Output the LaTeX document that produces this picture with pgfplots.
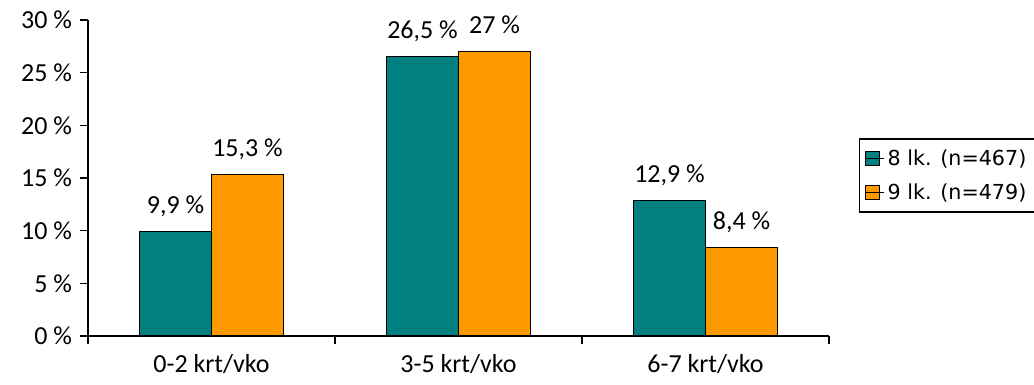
\documentclass[border=0pt]{standalone}
\usepackage{pgfplots}
\pgfplotsset{compat=1.18}
\usepackage{fontspec}
\setmainfont{Carlito}
\newfontfamily\legfont{DejaVu Sans}
\definecolor{teal8}{HTML}{008080}
\definecolor{orange9}{HTML}{FF9900}
\begin{document}
\begin{tikzpicture}
\useasboundingbox (-66pt,-36.75pt) rectangle (709.5pt,252pt);
\begin{axis}[
  scale only axis, width=555.75pt, height=237pt,
  xmin=-0.5, xmax=2.5, ymin=0, ymax=30,
  axis lines*=left,
  axis line style={line width=1.2pt, draw=black, -},
  ybar=0pt, bar width=54pt,
  xtick={-0.5,0.5,1.5,2.5},
  xticklabels={},
  extra x ticks={0,1,2},
  extra x tick labels={0-2 krt/vko,3-5 krt/vko,6-7 krt/vko},
  extra x tick style={major tick length=0pt},
  ytick={0,5,...,30},
  yticklabel={\pgfmathprintnumber{\tick} \%},
  tick align=outside,
  tick style={draw=black, line width=1.2pt},
  major tick length=6pt,
  /pgf/number format/assume math mode=true,
  ticklabel style={font=\fontsize{19.5}{23}\selectfont},
  xticklabel style={yshift=-10pt},
  yticklabel style={xshift=-2.5pt},
  nodes near coords={\pgfmathprintnumber[use comma]{\pgfplotspointmeta} \%},
  nodes near coords style={font=\fontsize{19.5}{23}\selectfont, anchor=base, yshift=13.5pt, inner sep=0pt},
  legend style={at={(1,0.508)}, anchor=west, xshift=22.5pt, draw=black, line width=1.1pt,
    font=\legfont\fontsize{15.5}{18}\selectfont, row sep=8pt, inner xsep=4pt, inner ysep=6pt},
  legend cell align=left,
  legend image code/.code={\draw[#1, draw=black, line width=0.9pt] (0pt,-5.25pt) rectangle (10.5pt,5.25pt); \path (0pt,0pt) -- (14pt,0pt);},
]
\addplot[fill=teal8, draw=black, line width=0.9pt] coordinates {(0,9.9) (1,26.5) (2,12.9)};
\addplot[fill=orange9, draw=black, line width=0.9pt] coordinates {(0,15.3) (1,27) (2,8.4)};
\legend{8 lk. (n=467), 9 lk. (n=479)}
\end{axis}
\end{tikzpicture}
\end{document}
